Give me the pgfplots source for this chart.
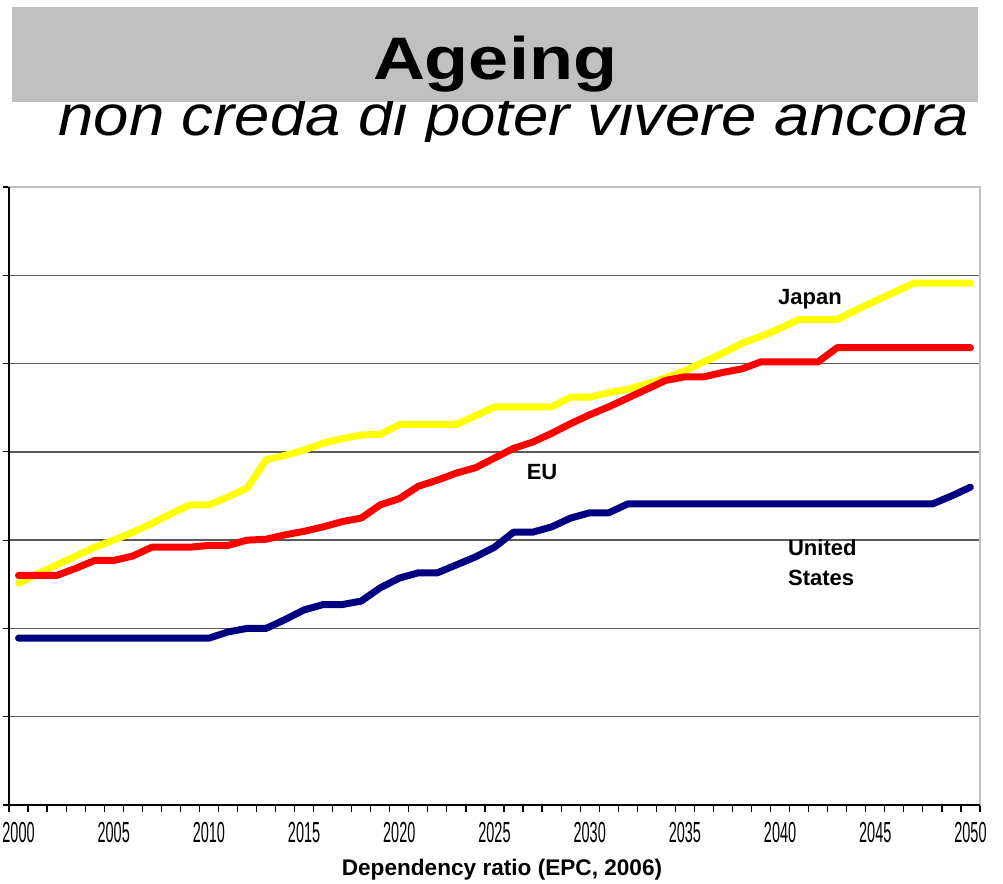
\documentclass[border=0pt]{standalone}
\usepackage{fontspec}
\setmainfont{Liberation Sans}
\newfontfamily\narrowsans[FakeStretch=0.5]{Liberation Sans}
\usepackage{graphicx}
\usepackage{pgfplots}
\pgfplotsset{compat=1.18}
\definecolor{titlegrey}{HTML}{C0C0C0}
\definecolor{gridgrey}{HTML}{5A5A5A}
\definecolor{jpyellow}{HTML}{FFFF00}
\definecolor{eured}{HTML}{FF0000}
\definecolor{usnavy}{HTML}{000080}
\begin{document}
\begin{tikzpicture}[x=1pt,y=1pt]
\useasboundingbox (0,0) rectangle (501.5,442);
\fill[titlegrey] (6,391) rectangle (489,438.5);
\node[anchor=base, inner sep=0pt, font=\bfseries\fontsize{30}{30}\selectfont] at (247.5,402) {\scalebox{1.2}[1]{Ageing}};
\begin{scope}
\clip (0,371) rectangle (501.5,391);
\node[anchor=base west, inner sep=0pt, font=\itshape\fontsize{28.6}{28.6}\selectfont] at (29,374) {\scalebox{1.11}[1]{non creda di poter vivere ancora}};
\end{scope}
\begin{axis}[
  at={(4.5pt,39.5pt)}, anchor=south west,
  scale only axis, width=485.5pt, height=309pt,
  xmin=1999.5, xmax=2050.5, ymin=0, ymax=70,
  axis line style={draw=titlegrey, line width=0.75pt},
  tick align=outside,
  major tick length=3pt, minor tick length=3.5pt,
  xtick={2000,2005,...,2050},
  xticklabels={2000,2005,2010,2015,2020,2025,2030,2035,2040,2045,2050},
  major x tick style={draw=none},
  minor xtick={1999.5,2000.5,...,2050.5},
  minor x tick style={draw=black, line width=0.6pt},
  xticklabel style={font=\narrowsans\fontsize{14.5}{14.5}\selectfont, anchor=base, yshift=-16pt},
  ytick={0,10,...,70},
  yticklabels={},
  ytick style={draw=black, line width=0.6pt},
  ymajorgrids,
  major grid style={draw=gridgrey, line width=0.75pt},
  xtick pos=bottom, ytick pos=left,
  clip=false,
]
\addplot[jpyellow, line width=3.5pt, line cap=round, line join=round] coordinates {
(2000,25.1)(2001,26.2)(2002,27.2)(2003,28.2)(2004,29.2)(2005,30.0)(2006,30.9)(2007,31.9)(2008,33.0)(2009,34.0)(2010,34.0)(2011,34.9)(2012,35.9)(2013,39.1)(2014,39.6)(2015,40.2)(2016,41.0)(2017,41.5)(2018,41.9)(2019,42.0)(2020,43.1)(2021,43.1)(2022,43.1)(2023,43.1)(2024,44.1)(2025,45.1)(2026,45.1)(2027,45.1)(2028,45.1)(2029,46.2)(2030,46.2)(2031,46.7)(2032,47.1)(2033,47.7)(2034,48.4)(2035,49.2)(2036,50.2)(2037,51.2)(2038,52.3)(2039,53.1)(2040,54.0)(2041,55.0)(2042,55.0)(2043,55.0)(2044,56.1)(2045,57.1)(2046,58.1)(2047,59.1)(2048,59.1)(2049,59.1)(2050,59.1)
};
\addplot[eured, line width=3.5pt, line cap=round, line join=round] coordinates {
(2000,26.0)(2001,26.0)(2002,26.0)(2003,26.8)(2004,27.7)(2005,27.7)(2006,28.2)(2007,29.2)(2008,29.2)(2009,29.2)(2010,29.4)(2011,29.4)(2012,30.0)(2013,30.1)(2014,30.6)(2015,31.0)(2016,31.5)(2017,32.1)(2018,32.5)(2019,34.0)(2020,34.7)(2021,36.1)(2022,36.8)(2023,37.6)(2024,38.2)(2025,39.3)(2026,40.4)(2027,41.1)(2028,42.1)(2029,43.2)(2030,44.2)(2031,45.1)(2032,46.1)(2033,47.1)(2034,48.1)(2035,48.5)(2036,48.5)(2037,49.0)(2038,49.4)(2039,50.2)(2040,50.2)(2041,50.2)(2042,50.2)(2043,51.8)(2044,51.8)(2045,51.8)(2046,51.8)(2047,51.8)(2048,51.8)(2049,51.8)(2050,51.8)
};
\addplot[usnavy, line width=3.5pt, line cap=round, line join=round] coordinates {
(2000,18.9)(2001,18.9)(2002,18.9)(2003,18.9)(2004,18.9)(2005,18.9)(2006,18.9)(2007,18.9)(2008,18.9)(2009,18.9)(2010,18.9)(2011,19.6)(2012,20.0)(2013,20.0)(2014,21.0)(2015,22.1)(2016,22.7)(2017,22.7)(2018,23.1)(2019,24.6)(2020,25.7)(2021,26.3)(2022,26.3)(2023,27.2)(2024,28.1)(2025,29.2)(2026,30.9)(2027,30.9)(2028,31.5)(2029,32.5)(2030,33.1)(2031,33.1)(2032,34.1)(2033,34.1)(2034,34.1)(2035,34.1)(2036,34.1)(2037,34.1)(2038,34.1)(2039,34.1)(2040,34.1)(2041,34.1)(2042,34.1)(2043,34.1)(2044,34.1)(2045,34.1)(2046,34.1)(2047,34.1)(2048,34.1)(2049,35.0)(2050,36.0)
};
\draw[titlegrey, line width=0.75pt] (rel axis cs:0,1) -- (rel axis cs:1,1) -- (rel axis cs:1,0);
\draw[black, line width=0.75pt] (rel axis cs:0,1) -- (rel axis cs:0,0) -- (rel axis cs:1,0);
\node[font=\bfseries\fontsize{11}{11}\selectfont] at (axis cs:2041.57,57.3) {Japan};
\node[font=\bfseries\fontsize{11}{11}\selectfont] at (axis cs:2027.5,37.7) {EU};
\node[font=\bfseries\fontsize{11}{15}\selectfont, align=left, anchor=west, inner sep=0pt] at (axis cs:2040.4,27.4) {United\\States};
\end{axis}
\node[anchor=base, inner sep=0pt, font=\bfseries\fontsize{11.3}{11.3}\selectfont] at (251,4) {Dependency ratio (EPC, 2006)};
\end{tikzpicture}
\end{document}
